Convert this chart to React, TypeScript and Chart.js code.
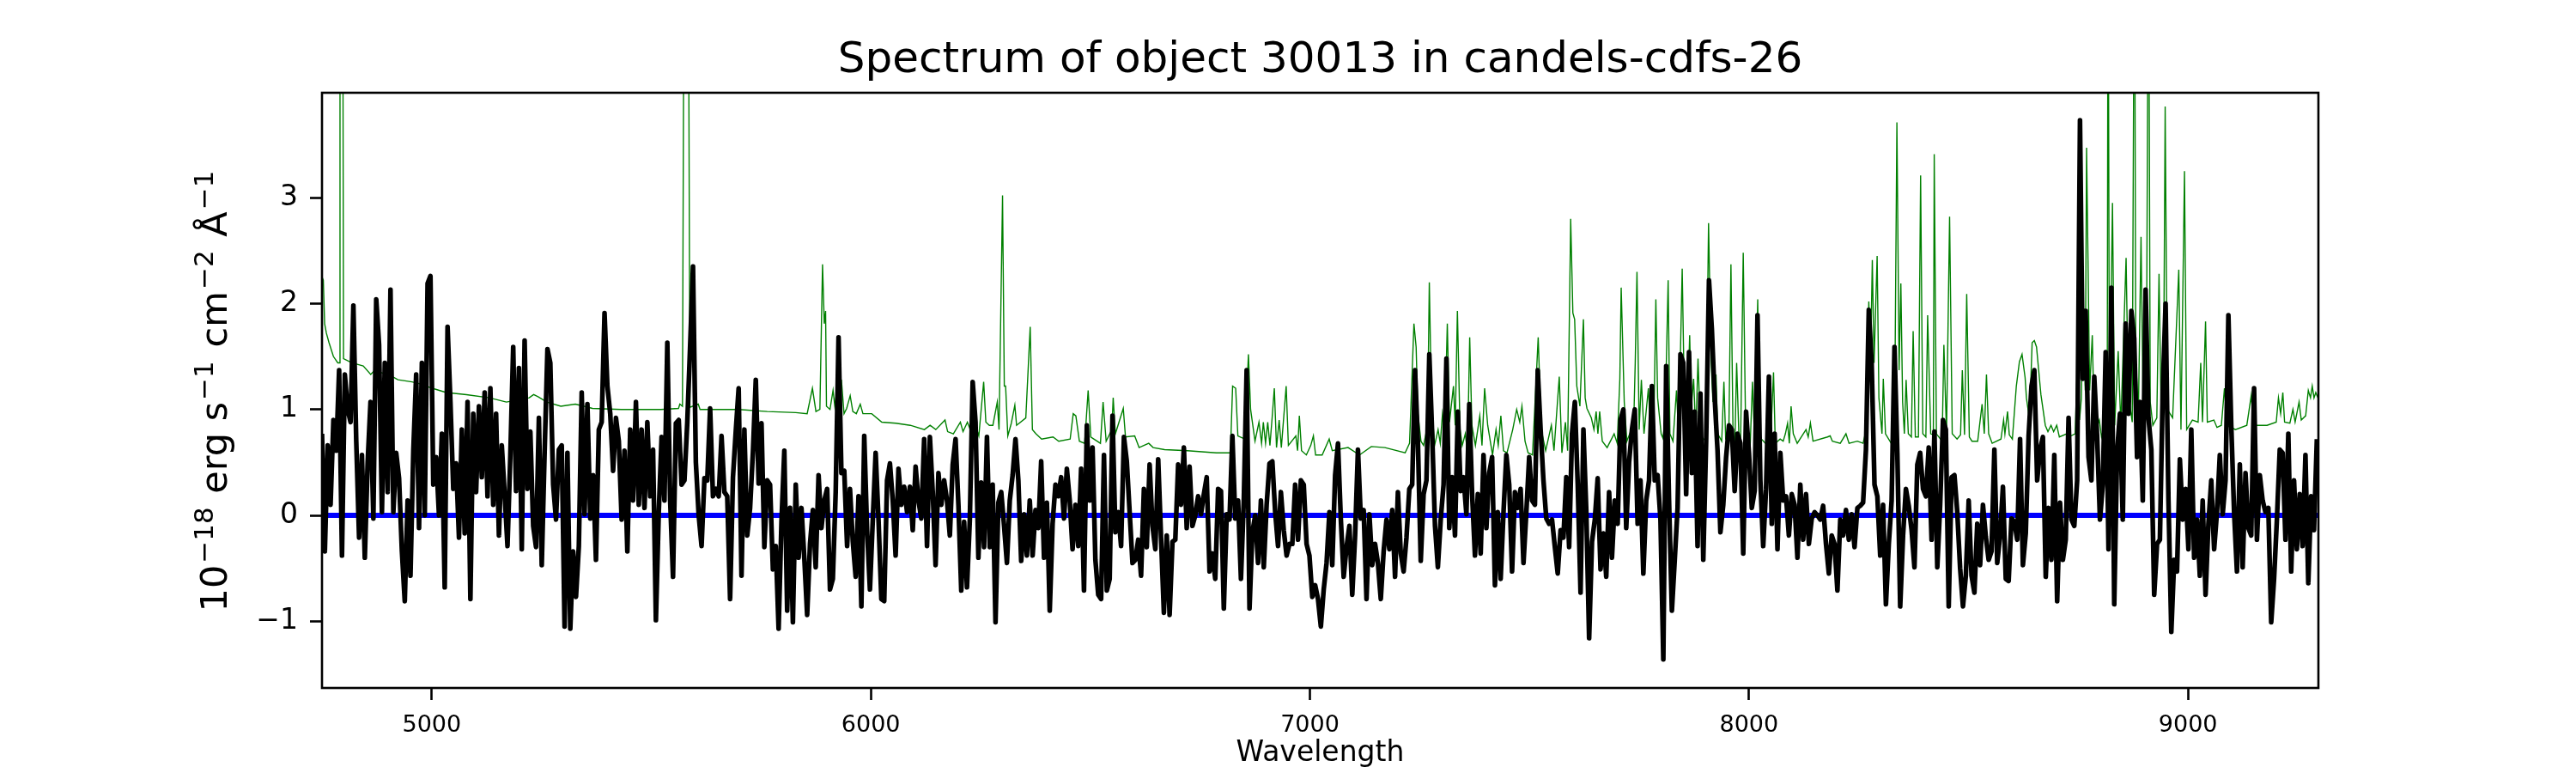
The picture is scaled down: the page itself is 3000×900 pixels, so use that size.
import React, { useEffect, useRef } from 'react';
import { Chart, registerables, ChartConfiguration, Plugin } from 'chart.js';

Chart.register(...registerables);

// wavelength grid of the 1D spectrum (FITS style start + step)
const CRVAL1 = 4750;
const CDELT1 = 6.5;

// flux, 1e-18 erg/s/cm2/A
const FLUX: number[] = [
  0.77, -0.34, 0.66, 0.10, 0.90, 0.61, 1.37, -0.38, 1.33, 1.0,
  0.88, 1.98, 0.70, -0.21, 0.57, -0.40, 0.5, 1.07, -0.03, 2.04,
  1.61, 0.03, 1.44, 0.22, 2.13, 0.03, 0.59, 0.35, -0.34, -0.81,
  0.14, -0.57, 0.61, 1.33, -0.12, 1.44, 0.0, 2.19, 2.26, 0.29,
  0.55, 0.0, 0.77, -0.68, 1.78, 1.07, 0.25, 0.49, -0.21, 0.81,
  -0.17, 1.07, -0.79, 0.96, 0.22, 1.03, 0.36, 1.16, 0.18, 1.20,
  0.10, 0.96, -0.19, 0.66, 0.2, -0.29, 0.57, 1.59, 0.23, 1.39,
  -0.32, 1.65, 0.25, 0.79, -0.10, -0.30, 0.92, -0.47, 0.59, 1.57,
  1.44, 0.29, -0.04, 0.62, 0.66, -1.05, 0.59, -1.07, -0.34, -0.77,
  -0.29, 1.16, 0.01, 1.05, -0.03, 0.38, -0.42, 0.81, 0.88, 1.91,
  1.22, 0.96, 0.42, 0.92, 0.70, -0.04, 0.61, -0.34, 0.81, 0.14,
  1.07, 0.10, 0.81, 0.07, 0.88, 0.18,
  // 5500 - 6260
  0.62, -0.99, 0.03, 0.74, 0.14, 1.63, 0.14, -0.58, 0.87, 0.90,
  0.29, 0.33, 0.88, 1.6, 2.35, 0.5, 0.0, -0.29, 0.35, 0.33,
  1.01, 0.18, 0.25, 0.18, 0.75, 0.22, 0.18, -0.79, 0.36, 0.8,
  1.20, -0.57, 0.81, -0.19, 0.07, 0.6, 1.28, 0.3, 0.87, -0.30,
  0.33, 0.29, -0.51, -0.29, -1.07, -0.06, 0.61, -0.90, 0.07, -1.01,
  0.29, -0.40, 0.07, -0.4, -0.94, -0.27, 0.05, -0.49, 0.38, -0.12,
  0.14, 0.25, -0.70, -0.60, 0.22, 1.68, 0.40, 0.42, -0.29, 0.25,
  -0.25, -0.58, 0.18, -0.86, 0.75, -0.14, -0.70, -0.04, 0.59, -0.04,
  -0.79, -0.81, 0.33, 0.49, 0.14, -0.38, 0.44, 0.10, 0.27, 0.03,
  0.27, -0.14, 0.46, 0.14, -0.03, 0.72, -0.29, 0.74, 0.22, -0.47,
  0.40, 0.10, 0.33, 0.14, -0.19, 0.48, 0.72, 0.10, -0.71, -0.06,
  -0.68, -0.04, 1.26, 0.88, -0.40, 0.31, -0.30,
  // 6265 - 7025
  0.74, -0.30, 0.29, -1.01, 0.12, 0.22, -0.1, -0.45, 0.14, 0.38,
  0.72, 0.33, -0.43, 0.01, -0.38, 0.14, -0.38, 0.05, -0.12, 0.51,
  -0.40, 0.12, -0.90, -0.08, 0.29, 0.18, 0.36, -0.03, 0.44, 0.14,
  -0.32, 0.10, -0.29, 0.44, -0.71, 0.85, 0.14, 0.64, -0.42, -0.75,
  -0.79, 0.57, -0.71, -0.60, 0.94, -0.16, 0.03, -0.29, 0.74, 0.51,
  0.03, -0.45, -0.42, -0.23, -0.57, 0.25, -0.30, 0.48, -0.1, -0.32,
  0.53, -0.21, -0.92, -0.19, -0.94, -0.25, -0.23, 0.48, 0.10, 0.64,
  -0.12, 0.46, -0.10, 0.0, 0.18, 0.01, 0.2, 0.36, -0.53, -0.36,
  -0.60, 0.25, 0.23, -0.88, 0.01, -0.04, 0.75, -0.03, 0.14, -0.60,
  0.14, 1.37, -0.88, -0.16, 0.0, -0.45, 0.14, -0.49, 0.10, 0.49,
  0.51, 0.03, -0.29, 0.22, -0.14, -0.38, -0.27, -0.27, 0.29, -0.23,
  0.33, 0.29, -0.27, -0.38, -0.77, -0.66, -0.79, -1.05,
  // 7030 - 7785
  -0.70, -0.45, 0.03, -0.47, 0.38, 0.68, -0.04, -0.58, -0.3, -0.10,
  -0.75, -0.19, 0.62, -0.03, 0.05, -0.79, 0.01, -0.47, -0.27, -0.45,
  -0.79, -0.34, -0.04, -0.32, 0.05, -0.58, 0.22, -0.36, -0.53, -0.21,
  0.25, 0.29, 1.37, 0.70, -0.43, 0.20, 0.33, 1.52, 0.77, -0.1,
  -0.49, -0.04, 0.29, 1.48, -0.12, 0.36, -0.19, 0.98, 0.23, 0.36,
  0.01, 1.05, 0.2, -0.38, 0.20, -0.36, 0.57, -0.12, 0.40, 0.55,
  -0.66, 0.03, -0.60, 0.03, 0.57, 0.29, -0.53, 0.22, 0.07, 0.25,
  -0.45, 0.03, 0.55, 0.14, 0.10, 1.37, 0.81, 0.33, -0.03, -0.08,
  -0.04, -0.3, -0.55, -0.14, -0.21, 0.36, -0.30, 0.77, 1.07, 0.3,
  -0.73, 0.81, 0.05, -1.16, -0.25, -0.04, 0.35, -0.51, -0.17, -0.58,
  0.22, -0.40, 0.14, -0.08, 0.90, 1.0, -0.12, 0.5, 0.81, 1.0,
  -0.08, 0.33, -0.55, 0.14, 0.33, 1.22, 0.33,
  // 7790 - 8545
  0.38, -0.04, -1.36, 1.41, 0.14, -0.90, -0.42, 0.07, 1.52, 1.44,
  0.2, 1.54, 0.40, 0.98, -0.29, 1.15, -0.42, 0.70, 2.22, 1.76,
  1.11, 0.61, -0.16, 0.10, 0.55, 0.85, 0.81, 0.23, 0.77, 0.68,
  -0.36, 0.98, 0.59, 0.07, 0.23, 1.89, 0.33, -0.29, 0.25, 1.31,
  -0.08, 0.77, -0.32, 0.59, 0.14, 0.18, -0.19, 0.20, 0.10, -0.40,
  0.29, -0.23, 0.20, -0.27, -0.03, 0.03, 0.0, -0.04, 0.09, -0.27,
  -0.55, -0.19, -0.27, -0.71, -0.04, -0.19, 0.05, -0.23, 0.01, -0.30,
  0.07, 0.09, 0.12, 0.62, 1.94, 1.44, 0.29, 0.18, -0.38, 0.10,
  -0.84, -0.27, 0.14, 1.59, 0.59, -0.86, -0.19, 0.25, 0.09, -0.14,
  -0.49, 0.48, 0.59, 0.25, 0.18, 0.64, -0.23, 0.79, -0.49, 0.10,
  0.90, 0.81, -0.86, 0.36, 0.38, 0.03, -0.5, -0.86, -0.57, 0.14,
  -0.57, -0.73, -0.08, -0.47, 0.10, -0.2, -0.42,
  // 8552 - 9293
  -0.34, 0.62, -0.45, -0.19, 0.27, -0.60, -0.62, -0.03, -0.06, -0.23,
  0.72, -0.47, -0.17, 0.75, 1.22, 1.37, 0.33, 0.62, 0.74, -0.58,
  0.07, -0.42, 0.57, -0.81, 0.12, -0.42, -0.23, 0.92, -0.04, -0.1,
  0.33, 3.73, 1.29, 1.93, 0.55, 0.33, 1.31, 0.75, -0.04, 0.29,
  1.54, -0.32, 2.15, -0.84, 0.6, 0.96, -0.04, 1.81, 0.96, 1.93,
  1.67, 0.55, 1.07, 0.14, 2.13, 0.92, 0.62, -0.75, -0.27, -0.23,
  1.18, 2.0, 0.14, -1.10, -0.42, -0.53, 0.53, -0.04, 0.25, -0.32,
  0.81, -0.40, -0.04, -0.57, 0.14, -0.75, -0.08, 0.33, -0.32, 0.03,
  0.57, 0.01, 0.33, 1.89, 0.85, 0.03, -0.53, 0.48, -0.49, 0.40,
  -0.12, -0.19, 1.20, -0.23, 0.38, 0.14, 0.03, 0.07, -1.01, -0.60,
  -0.04, 0.62, 0.59, -0.23, 0.77, -0.53, 0.33, -0.32, 0.20, -0.29,
  0.57, -0.64, 0.18, -0.14, 0.72,
];

// noise spectrum: [wavelength, sigma]; sky lines going off the top are set to 6
const ERR_POINTS: [number, number][] = [
  [4750, 2.25], [4753, 2.22], [4756, 1.81], [4760, 1.72], [4766, 1.63], [4776, 1.50], [4786, 1.44],
  [4790, 1.44], [4791, 6], [4797, 6], [4799, 1.48], [4818, 1.44], [4844, 1.41], [4861, 1.33],
  [4870, 1.37], [4910, 1.31], [4923, 1.28], [4955, 1.26], [4975, 1.24], [5001, 1.20], [5033, 1.16],
  [5079, 1.14], [5131, 1.11], [5170, 1.07], [5196, 1.09], [5222, 1.11], [5232, 1.14], [5242, 1.12],
  [5262, 1.07], [5294, 1.03], [5327, 1.05], [5366, 1.01], [5431, 1.0], [5522, 1.0],
  [5562, 1.01], [5565, 1.05], [5571, 1.03], [5575, 6], [5584, 6], [5588, 1.02], [5607, 1.05],
  [5611, 1.0], [5699, 1.0], [5764, 0.98], [5829, 0.97], [5855, 0.96], [5867, 1.20], [5875, 0.98],
  [5884, 1.0], [5890, 2.37], [5894, 1.81], [5897, 1.93], [5899, 1.03], [5907, 1.0], [5914, 1.18],
  [5918, 1.03], [5922, 1.16], [5927, 1.03], [5933, 1.28], [5939, 0.96], [5945, 1.01], [5953, 1.13],
  [5959, 0.98], [5967, 0.96], [5976, 1.05], [5982, 0.96], [6002, 0.96], [6025, 0.88], [6057, 0.87],
  [6090, 0.85], [6122, 0.81], [6135, 0.85], [6148, 0.81], [6169, 0.90], [6175, 0.79], [6188, 0.77],
  [6204, 0.88], [6210, 0.79], [6220, 0.88], [6230, 0.77], [6236, 0.88], [6246, 0.75], [6257, 1.26],
  [6262, 0.88], [6270, 0.85], [6278, 0.85], [6288, 1.07], [6292, 0.81], [6300, 3.02], [6304, 1.22],
  [6307, 1.22], [6312, 0.75], [6320, 0.87], [6328, 1.04], [6332, 0.85], [6353, 0.92], [6363, 1.78],
  [6368, 0.81], [6376, 0.77], [6389, 0.72], [6415, 0.74], [6428, 0.70], [6454, 0.72], [6461, 0.96],
  [6467, 0.94], [6475, 0.70], [6487, 0.68], [6495, 1.18], [6501, 0.74], [6523, 0.68], [6529, 1.07],
  [6536, 0.70], [6549, 0.81], [6552, 1.11], [6557, 0.77], [6575, 1.01], [6580, 0.74], [6601, 0.75],
  [6611, 0.64], [6633, 0.68], [6643, 0.64], [6669, 0.62], [6721, 0.61], [6787, 0.59], [6819, 0.59],
  [6824, 1.22], [6831, 1.20], [6836, 0.75], [6852, 0.72], [6860, 1.52], [6865, 1.0], [6875, 0.70],
  [6884, 0.88], [6890, 0.68], [6894, 0.88], [6899, 0.68], [6904, 0.88], [6909, 0.66], [6914, 0.92],
  [6919, 1.20], [6924, 0.64], [6930, 0.90], [6935, 0.64], [6946, 1.22], [6951, 0.66], [6968, 0.75],
  [6972, 0.61], [6976, 0.94], [6981, 0.61], [6992, 0.57], [7002, 0.66], [7008, 0.75], [7013, 0.57],
  [7028, 0.57], [7044, 0.72], [7051, 0.61], [7087, 0.64], [7113, 0.57], [7140, 0.65], [7171, 0.64],
  [7217, 0.59], [7227, 0.68], [7237, 1.81], [7242, 1.59], [7246, 0.96], [7253, 0.70], [7259, 0.66],
  [7268, 0.85], [7272, 2.20], [7277, 1.07], [7284, 0.66], [7292, 0.81], [7297, 0.68], [7302, 0.96],
  [7307, 0.81], [7313, 1.81], [7318, 0.88], [7327, 1.22], [7331, 0.85], [7336, 1.93], [7342, 0.81],
  [7347, 0.66], [7354, 0.77], [7359, 0.59], [7364, 1.68], [7369, 0.85], [7377, 0.66], [7387, 0.94],
  [7392, 0.66], [7398, 1.20], [7405, 0.85], [7416, 0.57], [7424, 0.81], [7429, 0.66], [7435, 0.94],
  [7441, 0.61], [7449, 0.59], [7462, 0.81], [7471, 1.0], [7478, 0.88], [7483, 1.03], [7490, 0.70],
  [7497, 0.59], [7507, 0.57], [7520, 1.68], [7527, 0.81], [7537, 0.61], [7550, 0.85], [7556, 0.61],
  [7568, 1.31], [7574, 0.59], [7582, 0.88], [7587, 0.61], [7594, 2.80], [7599, 1.91], [7603, 1.85],
  [7608, 1.22], [7615, 1.03], [7623, 1.85], [7627, 1.11], [7631, 1.01], [7641, 0.92], [7647, 0.81],
  [7652, 0.98], [7656, 0.77], [7660, 0.98], [7666, 0.70], [7677, 0.64], [7693, 0.77], [7700, 0.68],
  [7706, 1.29], [7709, 2.15], [7716, 1.07], [7722, 0.70], [7732, 0.81], [7737, 0.77], [7741, 1.44],
  [7745, 2.30], [7750, 0.81], [7755, 1.28], [7761, 0.77], [7771, 1.20], [7776, 0.77], [7783, 0.75],
  [7788, 2.04], [7792, 1.11], [7800, 0.77], [7804, 0.73], [7809, 0.9], [7816, 2.22], [7820, 0.77],
  [7827, 0.70], [7835, 1.18], [7840, 0.74], [7848, 2.33], [7853, 1.07], [7856, 1.18], [7859, 0.81],
  [7865, 1.70], [7869, 1.03], [7874, 1.29], [7879, 0.77], [7884, 1.48], [7890, 0.75], [7902, 0.70],
  [7908, 2.76], [7914, 1.44], [7918, 1.07], [7925, 1.33], [7929, 0.77], [7938, 0.70], [7943, 1.26],
  [7947, 0.72], [7954, 0.70], [7959, 2.37], [7964, 0.70], [7968, 0.68], [7972, 1.44], [7977, 0.77],
  [7981, 0.68], [7987, 2.48], [7992, 0.96], [7998, 0.77], [8003, 0.68], [8008, 1.26], [8013, 0.68],
  [8020, 2.04], [8024, 0.74], [8042, 0.66], [8049, 0.68], [8056, 1.35], [8060, 0.68], [8071, 0.72],
  [8078, 0.70], [8083, 0.77], [8088, 0.87], [8092, 0.68], [8096, 1.03], [8101, 0.77], [8110, 0.68],
  [8130, 0.81], [8135, 0.74], [8140, 0.87], [8146, 0.70], [8179, 0.74], [8185, 0.75], [8190, 0.70],
  [8208, 0.68], [8221, 0.77], [8228, 0.68], [8247, 0.70], [8260, 0.68], [8267, 0.81], [8273, 2.02],
  [8277, 1.44], [8281, 2.41], [8285, 1.44], [8292, 2.45], [8296, 1.11], [8303, 0.77], [8306, 1.29],
  [8311, 0.77], [8324, 0.68], [8332, 1.0], [8337, 3.71], [8342, 1.37], [8346, 2.19], [8350, 1.07],
  [8354, 0.77], [8358, 1.28], [8363, 0.77], [8370, 0.74], [8374, 1.74], [8379, 0.74], [8386, 0.74],
  [8391, 3.21], [8396, 0.77], [8403, 0.74], [8407, 1.89], [8414, 0.77], [8420, 0.76], [8422, 3.41],
  [8427, 0.77], [8440, 0.70], [8444, 1.61], [8450, 0.77], [8457, 2.82], [8463, 0.77], [8474, 0.72],
  [8482, 0.76], [8486, 1.37], [8491, 0.76], [8496, 2.09], [8502, 0.74], [8508, 0.70], [8521, 0.70],
  [8531, 1.05], [8536, 0.77], [8541, 1.33], [8546, 0.77], [8554, 0.68], [8574, 0.72], [8580, 0.90],
  [8583, 0.77], [8589, 0.98], [8593, 0.76], [8600, 0.72], [8609, 1.22], [8616, 1.45], [8622, 1.52],
  [8629, 1.3], [8632, 1.11], [8639, 0.90], [8645, 1.63], [8650, 1.65], [8655, 1.59], [8665, 1.14],
  [8675, 0.85], [8681, 0.79], [8688, 0.85], [8694, 0.79], [8701, 0.85], [8707, 0.74], [8724, 0.77],
  [8733, 0.75], [8743, 0.77], [8746, 1.18], [8750, 1.6], [8753, 0.9], [8757, 1.1], [8761, 1.93],
  [8766, 1.18], [8769, 3.47], [8776, 1.18], [8782, 1.70], [8787, 0.77], [8798, 0.90], [8803, 0.74],
  [8812, 0.88], [8816, 0.85], [8818, 6], [8821, 0.85], [8828, 2.95], [8833, 0.85], [8841, 1.55],
  [8847, 0.85], [8859, 2.43], [8864, 1.15], [8873, 0.88], [8878, 6], [8881, 1.48], [8887, 0.96],
  [8893, 2.63], [8898, 0.96], [8906, 1.96], [8910, 6], [8914, 1.07], [8920, 0.85], [8929, 0.92],
  [8934, 2.28], [8939, 0.92], [8944, 0.96], [8948, 3.86], [8953, 1.0], [8965, 0.92], [8979, 2.32],
  [8984, 0.81], [8992, 3.25], [8997, 0.81], [9010, 0.90], [9023, 0.88], [9029, 1.44], [9033, 0.88],
  [9040, 1.83], [9044, 0.88], [9059, 0.90], [9066, 0.83], [9076, 0.85], [9083, 1.20], [9089, 0.85],
  [9108, 0.81], [9134, 0.85], [9144, 1.13], [9149, 0.85], [9180, 0.85], [9201, 0.88], [9206, 1.11],
  [9211, 0.96], [9216, 1.16], [9220, 0.88], [9232, 0.87], [9239, 1.0], [9244, 0.88], [9253, 1.07],
  [9258, 0.90], [9268, 0.94], [9274, 1.18], [9279, 1.11], [9283, 1.22], [9287, 1.11], [9291, 1.16],
  [9296, 1.11],
];

// fitted model (flat at zero)
const MODEL_WAVE = [4750, 9297];
const MODEL_FLUX = [0, 0];

const X_RANGE = [4750, 9297];
const Y_RANGE = [-1.63, 3.99];
const X_TICKS = [5000, 6000, 7000, 8000, 9000];
const Y_TICKS = [-1, 0, 1, 2, 3];

const TITLE = 'Spectrum of object 30013 in candels-cdfs-26';
const X_LABEL = 'Wavelength';
// [text, is superscript]
const Y_LABEL: [string, boolean][] = [
  ['10', false], ['\u221218', true], [' erg s', false], ['\u22121', true],
  [' cm', false], ['\u22122', true], [' \u00c5', false], ['\u22121', true],
];

const FONT = '"DejaVu Sans", sans-serif';

const minus = (v: number) => (v < 0 ? '\u2212' + Math.abs(v) : String(v));

// title, axis labels and the box round the axes, drawn like matplotlib does
const decorations: Plugin<'line'> = {
  id: 'decorations',
  afterDatasetsDraw(chart) {
    const { ctx, chartArea } = chart;
    ctx.save();
    ctx.strokeStyle = '#000';
    ctx.lineWidth = 2.6;
    ctx.strokeRect(chartArea.left, chartArea.top, chartArea.right - chartArea.left, chartArea.bottom - chartArea.top);
    ctx.restore();
  },
  afterDraw(chart) {
    const { ctx, chartArea } = chart;
    const cx = (chartArea.left + chartArea.right) / 2;
    const cy = (chartArea.top + chartArea.bottom) / 2;
    ctx.save();
    ctx.fillStyle = '#000';
    ctx.textBaseline = 'alphabetic';

    ctx.font = `50px ${FONT}`;
    ctx.textAlign = 'center';
    ctx.fillText(TITLE, cx, 84);

    ctx.font = `33px ${FONT}`;
    ctx.fillText(X_LABEL, cx, 886);

    // y label, rotated, with raised exponents
    const base = `43px ${FONT}`;
    const sup = `31px ${FONT}`;
    ctx.textAlign = 'left';
    let total = 0;
    const widths = Y_LABEL.map(([t, s]) => {
      ctx.font = s ? sup : base;
      const w = ctx.measureText(t).width + (s ? 4 : 0);
      total += w;
      return w;
    });
    ctx.translate(264, cy);
    ctx.rotate(-Math.PI / 2);
    let x = -total / 2;
    Y_LABEL.forEach(([t, s], i) => {
      ctx.font = s ? sup : base;
      ctx.fillText(t, x + (s ? 2 : 0), s ? -16 : 0);
      x += widths[i];
    });
    ctx.restore();
  },
};

const App: React.FC = () => {
  const ref = useRef<HTMLCanvasElement>(null);
  const chartRef = useRef<Chart<'line'> | null>(null);

  useEffect(() => {
    if (!ref.current) return;

    const config: ChartConfiguration<'line'> = {
      type: 'line',
      data: {
        datasets: [
          {
            label: 'flux',
            data: FLUX.map((f, i) => ({ x: CRVAL1 + i * CDELT1, y: f })),
            borderColor: '#000000',
            borderWidth: 5.5,
            borderJoinStyle: 'round',
            order: 0,
            clip: 0,
          },
          {
            label: 'model',
            data: MODEL_WAVE.map((w, i) => ({ x: w, y: MODEL_FLUX[i] })),
            borderColor: '#0000ff',
            borderWidth: 6,
            order: 1,
            clip: 0,
          },
          {
            label: 'error',
            data: ERR_POINTS.map(([w, e]) => ({ x: w, y: e })),
            borderColor: '#008000',
            borderWidth: 1.4,
            order: 2,
            clip: 0,
          },
        ],
      },
      options: {
        responsive: false,
        animation: false,
        devicePixelRatio: 1,
        layout: { padding: { left: 0, top: 108, right: 300, bottom: 0 } },
        elements: { point: { radius: 0 }, line: { tension: 0 } },
        plugins: { legend: { display: false }, tooltip: { enabled: false }, title: { display: false } },
        scales: {
          x: {
            type: 'linear',
            min: X_RANGE[0],
            max: X_RANGE[1],
            afterFit: (s) => { s.height = 99; },
            afterBuildTicks: (s) => { s.ticks = X_TICKS.map((v) => ({ value: v })); },
            border: { display: false },
            grid: { drawOnChartArea: false, drawTicks: true, tickLength: 14, tickWidth: 2.6, tickColor: '#000' },
            ticks: {
              color: '#000',
              font: { family: FONT, size: 27 },
              padding: 14,
              maxRotation: 0,
              autoSkip: false,
              callback: (v) => String(v),
            },
          },
          y: {
            type: 'linear',
            min: Y_RANGE[0],
            max: Y_RANGE[1],
            afterFit: (s) => { s.width = 375; },
            afterBuildTicks: (s) => { s.ticks = Y_TICKS.map((v) => ({ value: v })); },
            border: { display: false },
            grid: { drawOnChartArea: false, drawTicks: true, tickLength: 14, tickWidth: 2.6, tickColor: '#000' },
            ticks: {
              color: '#000',
              font: { family: FONT, size: 33 },
              padding: 14,
              autoSkip: false,
              callback: (v) => minus(Number(v)),
            },
          },
        },
      },
      plugins: [decorations],
    };

    if (chartRef.current) chartRef.current.destroy();
    chartRef.current = new Chart(ref.current, config);

    return () => {
      if (chartRef.current) {
        chartRef.current.destroy();
        chartRef.current = null;
      }
    };
  }, []);

  return (
    <div style={{ position: 'fixed', left: 0, top: 0, width: 3000, height: 900, background: '#fff' }}>
      <canvas id="spectrum-30013" ref={ref} width={3000} height={900} style={{ display: 'block' }} />
    </div>
  );
};

export default App;
